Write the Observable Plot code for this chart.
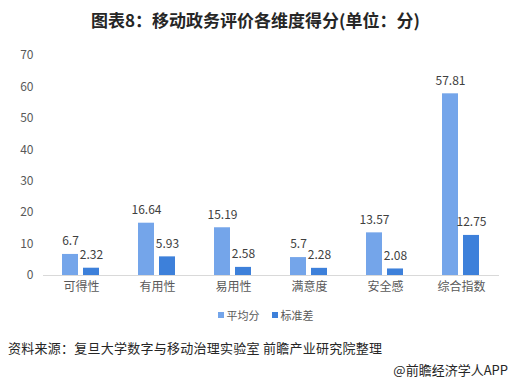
<!DOCTYPE html>
<html>
<head>
<meta charset="utf-8">
<script src="https://cdn.jsdelivr.net/npm/d3@7"></script>
<script src="https://cdn.jsdelivr.net/npm/@observablehq/plot@0.6"></script>
<style>
  html, body { margin: 0; padding: 0; background: #fff; }
  body { width: 511px; height: 381px; position: relative; overflow: hidden;
         font-family: "Microsoft YaHei", "Noto Sans CJK SC", sans-serif; }
  #title { position: absolute; top: 0; left: 0; width: 511px; height: 40px; line-height: 40px;
           text-align: center; font-weight: bold; font-size: 17px; color: #262626; }
  #chart { position: absolute; top: 40px; left: 0; }
  #legend { position: absolute; top: 304px; left: 0; width: 511px; height: 22px; line-height: 22px;
            display: flex; justify-content: center; font-size: 11px; color: #595959; padding-left: 20px; box-sizing: border-box; }
  #legend span.item { display: inline-flex; align-items: center; margin: 0 6px; }
  #legend span.sw { display: inline-block; width: 6px; height: 6px; margin-right: 3px; }
  #source { position: absolute; top: 339px; left: 8px; font-size: 13px; line-height: 18px; color: #262626; letter-spacing: 0.25px; }
  #credit { position: absolute; top: 361px; right: 3px; font-size: 13px; line-height: 18px; color: #262626; }
</style>
</head>
<body>
<div id="title">图表8：移动政务评价各维度得分(单位：分)</div>
<div id="chart"></div>
<div id="legend"></div>
<div id="source">资料来源：复旦大学数字与移动治理实验室 前瞻产业研究院整理</div>
<div id="credit">@前瞻经济学人APP</div>
<script>
const categories = ["可得性", "有用性", "易用性", "满意度", "安全感", "综合指数"];
const series = ["平均分", "标准差"];
const avgValues = [6.7, 16.64, 15.19, 5.7, 13.57, 57.81];
const sdValues = [2.32, 5.93, 2.58, 2.28, 2.08, 12.75];
const yTicks = [0, 10, 20, 30, 40, 50, 60, 70];
const colors = ["#74a5ea", "#3d80da"];

const data = [];
categories.forEach((c, i) => {
  data.push({cat: c, series: series[0], value: avgValues[i]});
  data.push({cat: c, series: series[1], value: sdValues[i]});
});

const chart = Plot.plot({
  width: 511,
  height: 262,
  marginTop: 15,
  marginLeft: 43,
  marginRight: 12,
  marginBottom: 27,
  style: {fontFamily: "'Microsoft YaHei', 'Noto Sans CJK SC', sans-serif", fontSize: "12px", color: "#595959", background: "transparent"},
  fx: {domain: categories, padding: 0, label: null, axis: "bottom", tickSize: 0, tickPadding: 7},
  x: {domain: series, paddingInner: 0.227, paddingOuter: 0.841, axis: null},
  y: {domain: [0, 70], ticks: yTicks, tickSize: 0, tickPadding: 10, label: null},
  color: {domain: series, range: colors},
  marks: [
    Plot.barY(data, {fx: "cat", x: "series", y: "value", fill: "series"}),
    Plot.text(data, {fx: "cat", x: "series", y: "value", text: d => String(d.value), dy: -13, fill: "#404040", fontSize: 12}),
    Plot.ruleY([0], {stroke: "#d9d9d9"})
  ]
});
document.getElementById("chart").appendChild(chart);

const legend = document.getElementById("legend");
series.forEach((s, i) => {
  const item = document.createElement("span");
  item.className = "item";
  const sw = document.createElement("span");
  sw.className = "sw";
  sw.style.background = colors[i];
  item.appendChild(sw);
  item.appendChild(document.createTextNode(s));
  legend.appendChild(item);
});
</script>
</body>
</html>
